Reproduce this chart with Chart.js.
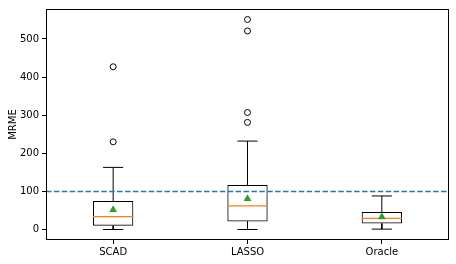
<!DOCTYPE html>
<html>
<head>
<meta charset="utf-8">
<script src="https://cdn.jsdelivr.net/npm/chart.js@4"></script>
<style>
  html, body { margin: 0; padding: 0; background: #fff; }
  #wrap { width: 456px; height: 264px; }
</style>
</head>
<body>
<div id="wrap"><canvas id="mrme"></canvas></div>
<script>
// box plot summary
const categories = ['SCAD', 'LASSO', 'Oracle'];
const positions = [1, 2, 3];
const whiskerLow = [0, 0, 1];
const q1 = [10, 21, 16];
const medians = [34, 62, 29];
const q3 = [75, 117, 46];
const whiskerHigh = [163, 232, 88];
const means = [52, 81, 33];
const outliers = [[230, 427], [281, 307, 521, 551], []];
const refLine = 100;
const yTicks = [0, 100, 200, 300, 400, 500];

const boxWidth = 0.3;
const font = { family: 'DejaVu Sans', size: 10 };

// axis limits like matplotlib autoscale (5% margin)
const allVals = whiskerLow.concat(whiskerHigh, outliers.flat());
const lo = Math.min(...allVals), hi = Math.max(...allVals);
const yMin = lo - 0.05 * (hi - lo), yMax = hi + 0.05 * (hi - lo);
const xMin = 0.5, xMax = 3.5;

// half box width in pixels, taken from the x scale
const halfBox = (chart, frac) => {
  const x = chart.scales.x;
  return (x.getPixelForValue(boxWidth / 2) - x.getPixelForValue(0)) * frac;
};

const whiskerData = [];
positions.forEach((p, i) => {
  whiskerData.push({x: p, y: q1[i]}, {x: p, y: whiskerLow[i]}, {x: p, y: null});
  whiskerData.push({x: p, y: q3[i]}, {x: p, y: whiskerHigh[i]}, {x: p, y: null});
});
const capData = [];
positions.forEach((p, i) => {
  capData.push({x: p, y: whiskerLow[i]}, {x: p, y: whiskerHigh[i]});
});
const outlierData = [];
positions.forEach((p, i) => outliers[i].forEach(v => outlierData.push({x: p, y: v})));

const frame = {
  id: 'frame',
  afterDraw(chart) {
    const a = chart.chartArea, ctx = chart.ctx;
    ctx.save();
    ctx.strokeStyle = '#000';
    ctx.lineWidth = 1;
    ctx.strokeRect(Math.round(a.left) + 0.5, Math.round(a.top) + 0.5,
      Math.round(a.right - a.left) - 1, Math.round(a.bottom - a.top) - 1);
    ctx.restore();
  }
};

new Chart(document.getElementById('mrme'), {
  type: 'scatter',
  data: {
    datasets: [
      {
        type: 'line',
        data: [{x: xMin, y: refLine}, {x: xMax, y: refLine}],
        borderColor: '#1f77b4',
        borderWidth: 1.5,
        borderDash: [5.5, 2.4],
        pointRadius: 0
      },
      {
        data: positions.map((p, i) => ({x: p, y: means[i]})),
        pointStyle: 'triangle',
        backgroundColor: '#2ca02c',
        borderColor: '#2ca02c',
        pointRadius: 4.5,
        borderWidth: 0
      },
      {
        data: outlierData,
        pointStyle: 'circle',
        backgroundColor: 'rgba(0,0,0,0)',
        borderColor: '#000',
        borderWidth: 1,
        pointRadius: 3
      },
      {
        data: positions.map((p, i) => ({x: p, y: medians[i]})),
        pointStyle: 'line',
        borderColor: '#ff7f0e',
        borderWidth: 1.2,
        pointRadius: ctx => halfBox(ctx.chart, 1)
      },
      {
        data: capData,
        pointStyle: 'line',
        borderColor: '#000',
        borderWidth: 1,
        pointRadius: ctx => halfBox(ctx.chart, 0.5)
      },
      {
        type: 'line',
        data: whiskerData,
        borderColor: '#000',
        borderWidth: 1,
        pointRadius: 0,
        spanGaps: false
      },
      {
        type: 'bar',
        data: positions.map((p, i) => ({x: p, y: [q1[i], q3[i]]})),
        backgroundColor: 'rgba(0,0,0,0)',
        borderColor: '#000',
        borderWidth: 1,
        borderSkipped: false,
        barPercentage: boxWidth,
        categoryPercentage: 1
      }
    ]
  },
  options: {
    responsive: true,
    maintainAspectRatio: false,
    animation: false,
    events: [],
    layout: { padding: { top: 7, right: 7, left: 0, bottom: 0 } },
    plugins: { legend: { display: false }, tooltip: { enabled: false } },
    scales: {
      x: {
        type: 'linear',
        min: xMin,
        max: xMax,
        offset: false,
        afterBuildTicks: s => { s.ticks = positions.map(v => ({value: v})); },
        afterFit: s => { s.height = 24; },
        grid: { drawOnChartArea: false, offset: false, color: '#000', tickLength: 4 },
        border: { display: false },
        ticks: {
          font: font,
          color: '#000',
          padding: 2,
          maxRotation: 0,
          callback: (v) => categories[positions.indexOf(v)]
        }
      },
      y: {
        type: 'linear',
        min: yMin,
        max: yMax,
        afterBuildTicks: s => { s.ticks = yTicks.map(v => ({value: v})); },
        afterFit: s => { s.width = 46; },
        grid: { drawOnChartArea: false, color: '#000', tickLength: 4 },
        border: { display: false },
        title: { display: true, text: 'MRME', font: font, color: '#000', padding: { top: 7, bottom: 0 } },
        ticks: { font: font, color: '#000', padding: 3 }
      }
    }
  },
  plugins: [frame]
});
</script>
</body>
</html>
